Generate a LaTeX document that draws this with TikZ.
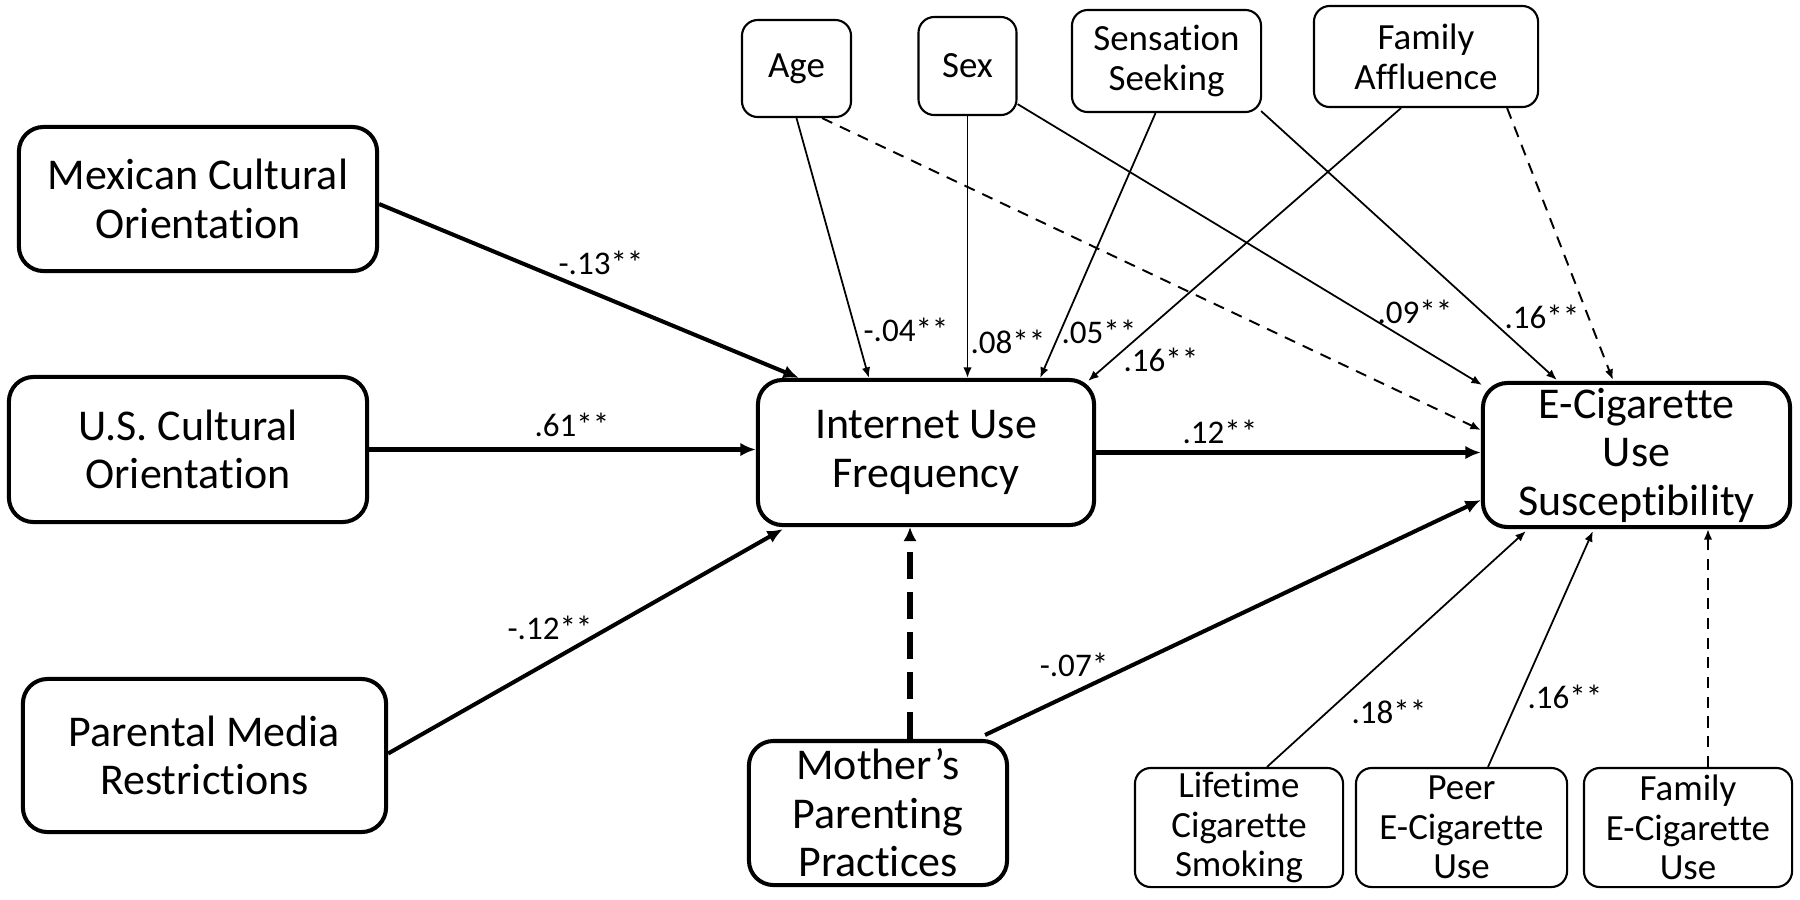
\documentclass[tikz,border=0pt]{standalone}
\usepackage{fontspec}
\setmainfont{Carlito}[Ligatures=NoCommon]
\usetikzlibrary{calc,arrows.meta}
\begin{document}
\begin{tikzpicture}[x=0.01cm,y=-0.01cm,
  mainbox/.style={draw, rounded corners=7pt, line width=1.15pt, align=center, inner sep=0pt,
    font=\fontsize{12.5pt}{13.8pt}\selectfont},
  smallbox/.style={draw, rounded corners=4.5pt, line width=0.6pt, align=center, inner sep=0pt,
    font=\fontsize{10.5pt}{11.3pt}\selectfont},
  lab/.style={font=\fontsize{9.4pt}{10pt}\selectfont, inner sep=0pt},
  thick arrow/.style={line width=1.15pt, -{Latex[length=4.4pt,width=3.8pt]}},
  thin arrow/.style={line width=0.5pt, -{Latex[length=3pt,width=2.4pt]}},
  thin dashed/.style={thin arrow, line width=0.55pt, dash pattern=on 3.2pt off 2.4pt},
  heavy dashed/.style={line width=1.5pt, dash pattern=on 7.6pt off 3.8pt, -{Latex[length=4pt,width=3.8pt]}}
]
\useasboundingbox (0,0) rectangle (1800,899);

% main boxes
\node[mainbox, minimum width=3.58cm, minimum height=1.44cm] (mex) at (198,199) {Mexican Cultural\\Orientation};
\node[mainbox, minimum width=3.58cm, minimum height=1.45cm] (us) at (188,449.5) {U.S. Cultural\\Orientation};
\node[mainbox, minimum width=3.63cm, minimum height=1.53cm] (par) at (204.5,755.5) {Parental Media\\Restrictions};
\node[mainbox, minimum width=3.36cm, minimum height=1.45cm] (int) at (926,452.5) {Internet Use\\Frequency};
\node[mainbox, minimum width=3.07cm, minimum height=1.44cm] (ecig) at (1636.5,455) {E-Cigarette\\Use\\Susceptibility};
\node[mainbox, minimum width=2.58cm, minimum height=1.44cm] (mot) at (878,813) {Mother’s\\Parenting\\Practices};

% small boxes
\node[smallbox, minimum width=1.09cm, minimum height=0.97cm] (age) at (796.5,68.5) {Age};
\node[smallbox, minimum width=0.98cm, minimum height=0.98cm] (sex) at (967.5,66) {Sex};
\node[smallbox, minimum width=1.89cm, minimum height=1.02cm] (sens) at (1166.5,61) {Sensation\\Seeking};
\node[smallbox, minimum width=2.24cm, minimum height=1.01cm] (fa) at (1426,56.5) {Family\\Affluence};
\node[smallbox, minimum width=2.08cm, minimum height=1.19cm] (life) at (1239,827.5) {Lifetime\\Cigarette\\Smoking};
\node[smallbox, minimum width=2.11cm, minimum height=1.19cm] (peer) at (1461.5,827.5) {Peer\\E-Cigarette\\Use};
\node[smallbox, minimum width=2.08cm, minimum height=1.19cm] (fam) at (1688,827.5) {Family\\E-Cigarette\\Use};

% connectors to Internet Use Frequency
\draw[thick arrow] ($(mex.east)+(0,5)$) -- ($(int.north west)+(43,0)$);
\draw[thick arrow] (us.east) -- (us.east -| int.west);
\draw[thick arrow] ($(par.east)+(0,-2)$) -- ($(int.south west)+(27,2)$);
\draw[thin arrow] (age.south) -- ($(int.north west)+(113,0)$);
\draw[thin arrow] (sex.south) -- (sex.south |- int.north);
\draw[thin arrow] ($(sens.south)+(-11,0)$) -- ($(int.north east)+(-56,0)$);
\draw[thin arrow] ($(fa.south)+(-25,0)$) -- ($(int.north east)+(-8,3)$);
\draw[heavy dashed] ($(mot.north)+(32,0)$) coordinate (mtop) -- (mtop |- int.south);

% connectors to E-Cigarette Use Susceptibility
\draw[thin dashed] ($(age.south east)+(-30,0)$) -- ($(ecig.west)+(0,-25)$);
\draw[thin arrow] ($(sex.south east)+(0,-12)$) -- ($(ecig.north west)+(1,4)$);
\draw[thin arrow] ($(sens.south east)+(-1,-2)$) -- ($(ecig.north west)+(76,-1)$);
\draw[thin dashed] ($(fa.south east)+(-32,0)$) -- ($(ecig.north west)+(132,-1)$);
\draw[thick arrow] (int.east) -- (int.east -| ecig.west);
\draw[thick arrow] ($(mot.north east)+(-24,-4)$) -- ($(ecig.west)+(0,45)$);
\draw[thin arrow] ($(life.north)+(28,0)$) -- ($(ecig.south west)+(45,2)$);
\draw[thin arrow] ($(peer.north)+(26.5,0)$) -- ($(ecig.south west)+(112,2)$);
\draw[thin dashed] ($(fam.north)+(20,0)$) coordinate (ftop) -- (ftop |- ecig.south);

% labels
\node[lab] (l1) at (601,263) {-.13**};
\node[lab] (l2) at (572,425) {.61**};
\node[lab] (l3) at (550,628) {-.12**};
\node[lab] (l4) at (906,330) {-.04**};
\node[lab] (l5) at (1008,342) {.08**};
\node[lab] (l6) at (1099,332) {.05**};
\node[lab] (l7) at (1161,360) {.16**};
\node[lab] (l8) at (1415,312) {.09**};
\node[lab] (l9) at (1542,317) {.16**};
\node[lab] (l10) at (1220,432) {.12**};
\node[lab] (l11) at (1074,665) {-.07*};
\node[lab] (l12) at (1389,712) {.18**};
\node[lab] (l13) at (1565,697) {.16**};
\end{tikzpicture}
\end{document}
